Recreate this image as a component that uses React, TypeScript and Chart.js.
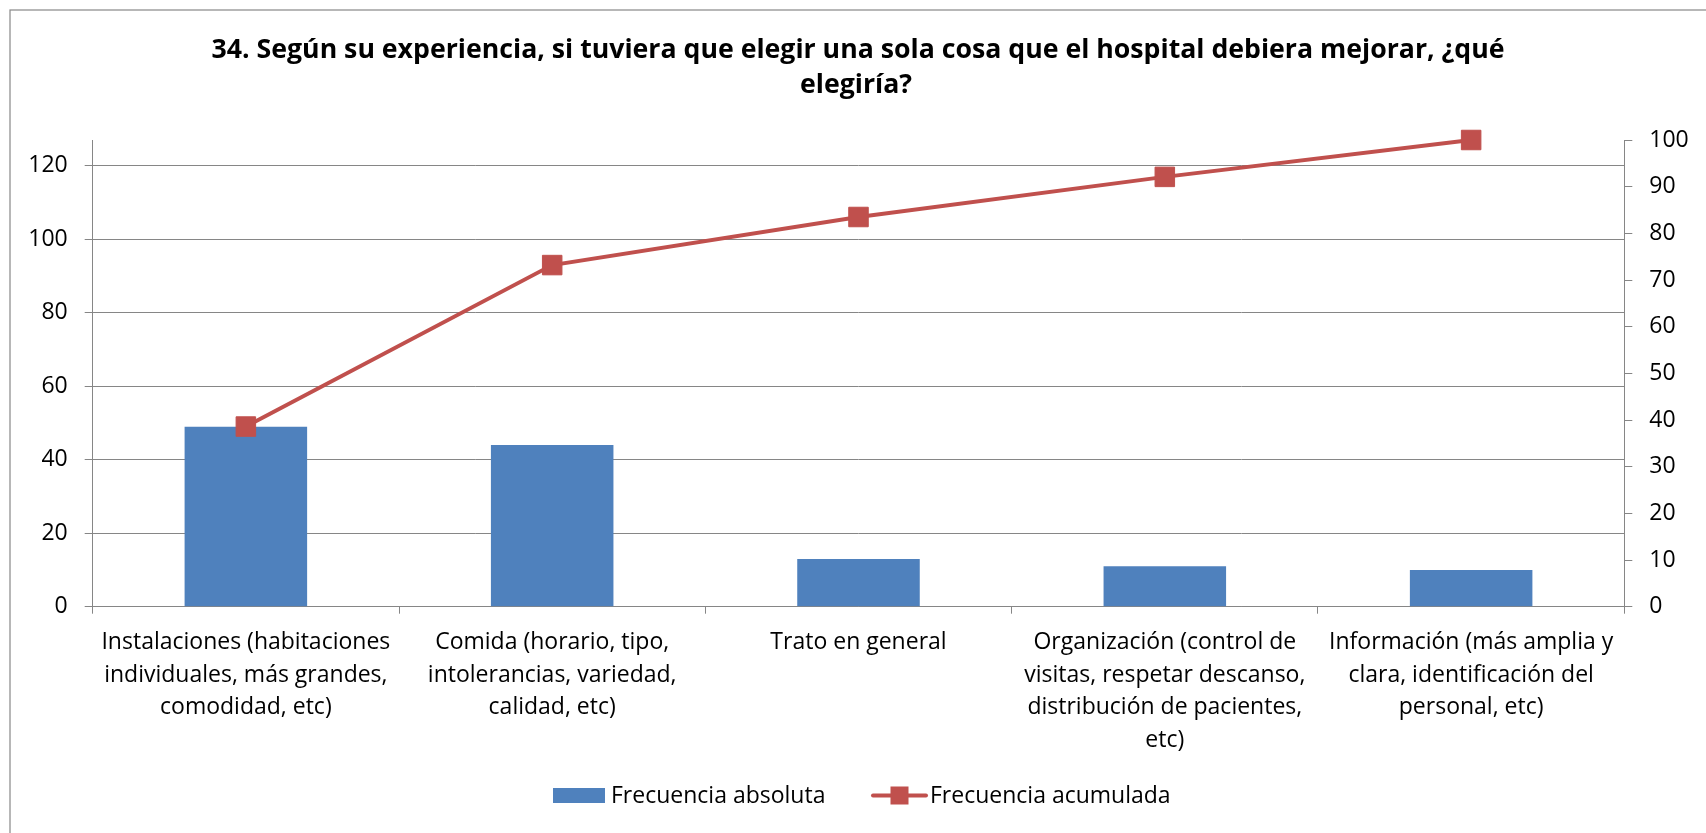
import React, { useEffect, useRef } from 'react';
import { Chart, registerables } from 'chart.js';

Chart.register(...registerables);

const TITLE_LINES = [
  '34. Según su experiencia, si tuviera que elegir una sola cosa que el hospital debiera mejorar, ¿qué',
  'elegiría?',
];

const CATEGORIES: string[][] = [
  ['Instalaciones (habitaciones', 'individuales, más grandes,', 'comodidad, etc)'],
  ['Comida (horario, tipo,', 'intolerancias, variedad,', 'calidad, etc)'],
  ['Trato en general'],
  ['Organización (control de', 'visitas, respetar descanso,', 'distribución de pacientes,', 'etc)'],
  ['Información (más amplia y', 'clara, identificación del', 'personal, etc)'],
];

const SERIES_NAMES = ['Frecuencia absoluta', 'Frecuencia acumulada'];
const FRECUENCIA_ABSOLUTA = [49, 44, 13, 11, 10];
const FRECUENCIA_ACUMULADA = [38.6, 73.2, 83.5, 92.1, 100];

const LEFT_MAX = 127;
const LEFT_TICKS = [0, 20, 40, 60, 80, 100, 120];
const RIGHT_MAX = 100;
const RIGHT_TICKS = [0, 10, 20, 30, 40, 50, 60, 70, 80, 90, 100];

const BAR_COLOR = '#4F81BD';
const LINE_COLOR = '#C0504D';
const AXIS_COLOR = '#868686';
const FONT = '"Open Sans", "Noto Sans", sans-serif';

const W = 1706;
const H = 833;
const X_AXIS_HEIGHT = 180;

const decorPlugin = {
  id: 'decor',
  beforeDraw(chart: any) {
    const ctx = chart.ctx;
    ctx.save();
    ctx.strokeStyle = '#8c8c8c';
    ctx.lineWidth = 1.25;
    ctx.strokeRect(10, 10, W + 50, H + 50);
    ctx.restore();
  },
  afterDraw(chart: any) {
    const ctx = chart.ctx;
    ctx.save();
    // Title
    ctx.fillStyle = '#000';
    ctx.textAlign = 'center';
    ctx.textBaseline = 'alphabetic';
    ctx.font = `bold 26.7px ${FONT}`;
    ctx.fillText(TITLE_LINES[0], 858, 58);
    ctx.fillText(TITLE_LINES[1], 856, 93);

    // Legend
    const ds = chart.data.datasets;
    const barDs = ds.find((d: any) => d.type === 'bar');
    const lineDs = ds.find((d: any) => d.type === 'line');
    ctx.font = `23px ${FONT}`;
    ctx.textAlign = 'left';
    ctx.fillStyle = barDs.backgroundColor;
    ctx.fillRect(553, 788, 52, 15);
    ctx.fillStyle = '#000';
    ctx.fillText(barDs.label, 611, 803);

    ctx.strokeStyle = lineDs.borderColor;
    ctx.lineWidth = 4;
    ctx.lineCap = 'round';
    ctx.beginPath();
    ctx.moveTo(873, 795.5);
    ctx.lineTo(926, 795.5);
    ctx.stroke();
    ctx.fillStyle = lineDs.backgroundColor;
    ctx.fillRect(890.5, 786.5, 18, 18);
    ctx.fillStyle = '#000';
    ctx.fillText(lineDs.label, 930, 803);
    ctx.restore();
  },
};

export default function App() {
  const canvasRef = useRef<HTMLCanvasElement | null>(null);

  useEffect(() => {
    const canvas = canvasRef.current;
    if (!canvas) return;
    const chart = new Chart(canvas, {
      type: 'bar',
      data: {
        labels: CATEGORIES,
        datasets: [
          {
            type: 'bar',
            label: SERIES_NAMES[0],
            data: FRECUENCIA_ABSOLUTA,
            yAxisID: 'y',
            backgroundColor: BAR_COLOR,
            borderWidth: 0,
            barPercentage: 0.4,
            categoryPercentage: 1,
            order: 1,
          } as any,
          {
            type: 'line',
            label: SERIES_NAMES[1],
            data: FRECUENCIA_ACUMULADA,
            yAxisID: 'y1',
            borderColor: LINE_COLOR,
            backgroundColor: LINE_COLOR,
            borderWidth: 4,
            tension: 0,
            clip: false,
            pointStyle: 'rect',
            pointRadius: 13.8,
            pointHoverRadius: 13.8,
            pointBorderWidth: 1,
            pointBorderColor: LINE_COLOR,
            pointBackgroundColor: LINE_COLOR,
            order: 0,
          } as any,
        ],
      },
      options: {
        responsive: false,
        animation: false,
        devicePixelRatio: 1,
        layout: { padding: { top: 140, bottom: H - 606.7 - X_AXIS_HEIGHT, left: 0, right: 0 } },
        plugins: {
          legend: { display: false },
          title: { display: false },
          tooltip: { enabled: false },
        },
        scales: {
          x: {
            type: 'category',
            offset: true,
            grid: {
              offset: true,
              drawOnChartArea: false,
              drawTicks: true,
              tickLength: 7,
              color: AXIS_COLOR,
              tickColor: AXIS_COLOR,
              lineWidth: 1,
            },
            border: { display: true, color: AXIS_COLOR, width: 1 },
            ticks: {
              color: '#000',
              autoSkip: false,
              maxRotation: 0,
              minRotation: 0,
              padding: 13,
              font: { family: FONT, size: 23, lineHeight: '32.5px' } as any,
            },
            afterFit: (s: any) => {
              s.height = X_AXIS_HEIGHT;
            },
          },
          y: {
            type: 'linear',
            position: 'left',
            min: 0,
            max: LEFT_MAX,
            afterBuildTicks: (s: any) => {
              s.ticks = LEFT_TICKS.map((v) => ({ value: v }));
            },
            grid: {
              color: AXIS_COLOR,
              tickColor: AXIS_COLOR,
              tickLength: 8,
              lineWidth: 1,
            },
            border: { display: true, color: AXIS_COLOR, width: 1 },
            ticks: {
              color: '#000',
              padding: 17,
              font: { family: FONT, size: 23 },
            },
            afterFit: (s: any) => {
              s.width = 92.7;
            },
          },
          y1: {
            type: 'linear',
            position: 'right',
            min: 0,
            max: RIGHT_MAX,
            afterBuildTicks: (s: any) => {
              s.ticks = RIGHT_TICKS.map((v) => ({ value: v }));
            },
            grid: {
              drawOnChartArea: false,
              color: AXIS_COLOR,
              tickColor: AXIS_COLOR,
              tickLength: 8,
              lineWidth: 1,
            },
            border: { display: true, color: AXIS_COLOR, width: 1 },
            ticks: {
              color: '#000',
              padding: 17,
              font: { family: FONT, size: 23 },
            },
            afterFit: (s: any) => {
              s.width = W - 1624.3;
            },
          },
        },
      },
      plugins: [decorPlugin],
    });
    return () => chart.destroy();
  }, []);

  return (
    <div style={{ position: 'absolute', left: 0, top: 0, width: W, height: H, background: '#fff' }}>
      <canvas ref={canvasRef} width={W} height={H} style={{ display: 'block' }} />
    </div>
  );
}
